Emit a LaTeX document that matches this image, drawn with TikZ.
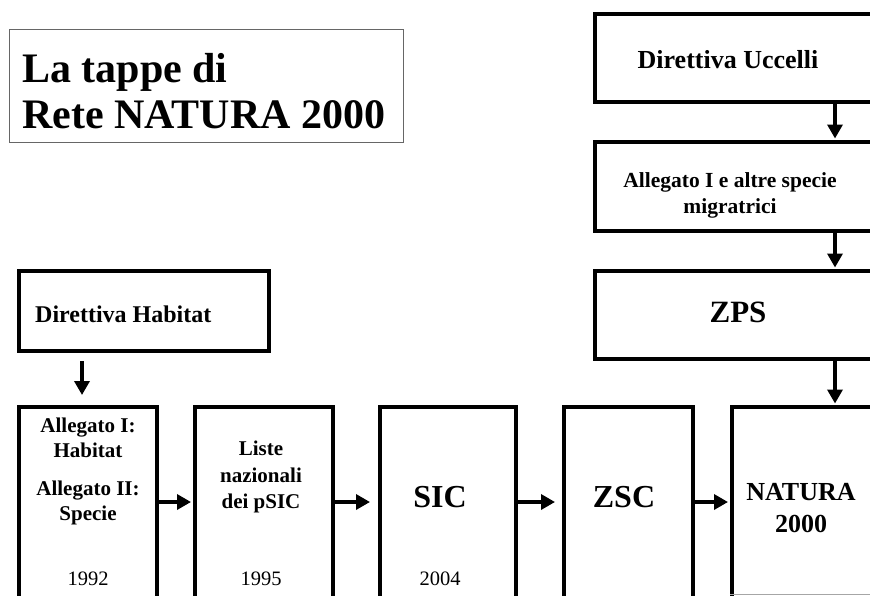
\documentclass[tikz,border=0pt]{standalone}
\usepackage{fontspec}
\setmainfont{Liberation Serif}
\usetikzlibrary{arrows.meta}
\begin{document}
\begin{tikzpicture}[x=1pt,y=-1pt,
  box/.style={draw=black, line width=4.2pt, inner sep=0pt, anchor=north west},
  titlebox/.style={draw=black!60, line width=1.2pt, inner sep=0pt, anchor=north west},
  arr/.style={line width=3.4pt, -{Triangle[length=14pt,width=15pt]}},
  lbl/.style={anchor=base, inner sep=0pt, font=\bfseries},
  yr/.style={anchor=base, inner sep=0pt, font=\fontsize{20.5}{24}\selectfont}]
\useasboundingbox[fill=white] (0,0) rectangle (870,595);
% title
\node[titlebox, minimum width=394pt, minimum height=113pt] (title) at (9,29) {};
\node[anchor=base west, inner sep=0pt, font=\fontsize{42}{46}\bfseries\selectfont] (tt1) at (22,82) {La tappe di};
\node[anchor=base west, inner sep=0pt, font=\fontsize{42}{46}\bfseries\selectfont] (tt2) at (22,128) {Rete NATURA 2000};
% right column
\node[box, minimum width=290pt, minimum height=88pt] (ucc) at (593,12) {};
\node[lbl, font=\fontsize{26}{30}\bfseries\selectfont] (uccT) at (728,68) {Direttiva Uccelli};
\node[box, minimum width=290pt, minimum height=89pt] (allu) at (593,140) {};
\node[lbl, font=\fontsize{21.5}{26}\bfseries\selectfont] (alluT1) at (730,187) {Allegato I e altre specie};
\node[lbl, font=\fontsize{21.5}{26}\bfseries\selectfont] (alluT2) at (730,213) {migratrici};
\node[box, minimum width=290pt, minimum height=88pt] (zps) at (593,269) {};
\node[lbl, font=\fontsize{31}{36}\bfseries\selectfont] (zpsT) at (738,322) {ZPS};
% habitat
\node[box, minimum width=250pt, minimum height=80pt] (hab) at (17,269) {};
\node[anchor=base west, inner sep=0pt, font=\fontsize{24}{28}\bfseries\selectfont] (habT) at (35,322) {Direttiva Habitat};
% bottom row
\node[box, minimum width=138pt, minimum height=210pt] (b1) at (17,405) {};
\node[box, minimum width=138pt, minimum height=210pt] (b2) at (193,405) {};
\node[box, minimum width=136pt, minimum height=210pt] (b3) at (378,405) {};
\node[box, minimum width=129pt, minimum height=210pt] (b4) at (562,405) {};
\node[box, minimum width=170pt, minimum height=210pt] (b5) at (730,405) {};
\coordinate (gy) at (0,594);
\coordinate (gr) at (870,594);
\draw[black!35, line width=0.8pt] (b5.west |- gy) -- (gr);
% box texts
\node[lbl, font=\fontsize{21}{25}\bfseries\selectfont] (b1a) at (88,432) {Allegato I:};
\node[lbl, font=\fontsize{21}{25}\bfseries\selectfont] (b1b) at (88,457) {Habitat};
\node[lbl, font=\fontsize{21}{25}\bfseries\selectfont] (b1c) at (88,495) {Allegato II:};
\node[lbl, font=\fontsize{21}{25}\bfseries\selectfont] (b1d) at (88,520) {Specie};
\node[yr] (y1) at (88,585) {1992};
\node[lbl, font=\fontsize{21}{25}\bfseries\selectfont] (b2a) at (261,455) {Liste};
\node[lbl, font=\fontsize{21}{25}\bfseries\selectfont] (b2b) at (261,482) {nazionali};
\node[lbl, font=\fontsize{21}{25}\bfseries\selectfont] (b2c) at (261,508) {dei pSIC};
\node[yr] (y2) at (261,585) {1995};
\node[lbl, font=\fontsize{32}{36}\bfseries\selectfont] (sicT) at (440,507) {SIC};
\node[yr] (y3) at (440,585) {2004};
\node[lbl, font=\fontsize{32}{36}\bfseries\selectfont] (zscT) at (624,507) {ZSC};
\node[lbl, font=\fontsize{26}{30}\bfseries\selectfont] (natT1) at (801,500) {NATURA};
\node[lbl, font=\fontsize{26}{30}\bfseries\selectfont] (natT2) at (801,532) {2000};
% arrows
\coordinate (vx) at (835,0);
\coordinate (ax) at (82,0);
\coordinate (hy) at (0,502);
\draw[arr, shorten >=1.5pt] (ucc.south -| vx) -- (allu.north -| vx);
\draw[arr, shorten >=1.5pt] (allu.south -| vx) -- (zps.north -| vx);
\draw[arr, shorten >=1.5pt] (zps.south -| vx) -- (b5.north -| vx);
\draw[arr, shorten <=8pt, shorten >=10pt] (hab.south -| ax) -- (b1.north -| ax);
\draw[arr, shorten >=2pt] (b1.east |- hy) -- (b2.west |- hy);
\draw[arr, shorten >=8pt] (b2.east |- hy) -- (b3.west |- hy);
\draw[arr, shorten >=7pt] (b3.east |- hy) -- (b4.west |- hy);
\draw[arr, shorten >=2pt] (b4.east |- hy) -- (b5.west |- hy);
\end{tikzpicture}
\end{document}
